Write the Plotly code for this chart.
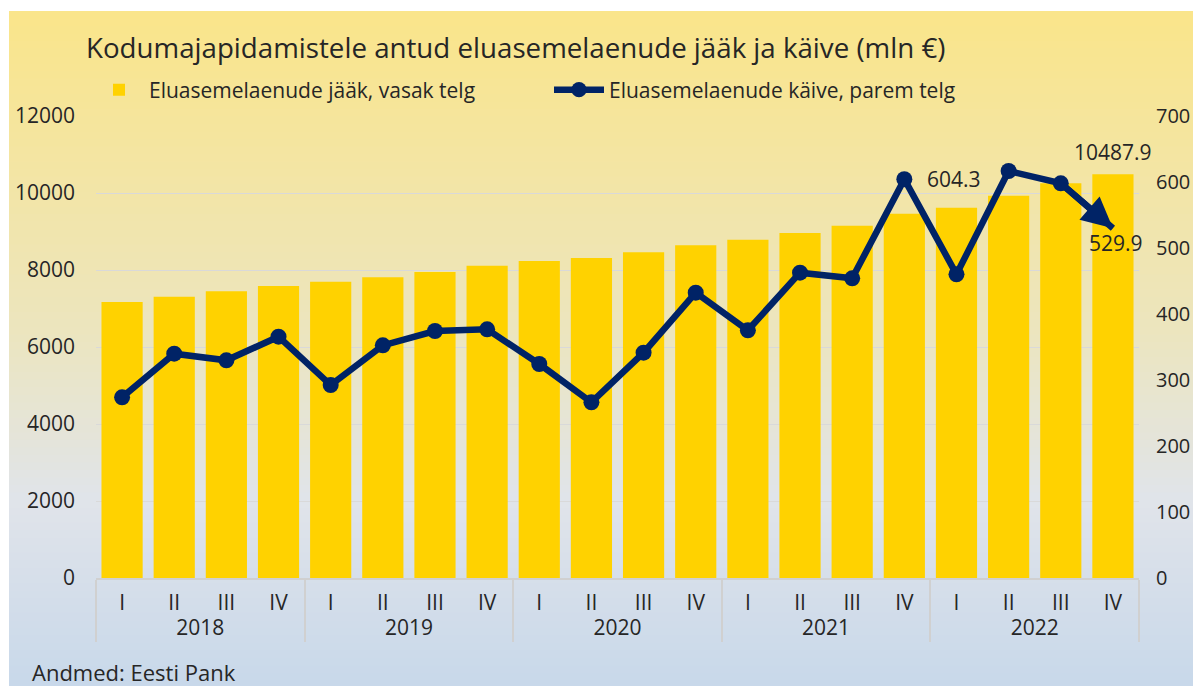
import plotly.graph_objects as go

# ---------------- data ----------------
years = ["2018", "2019", "2020", "2021", "2022"]
quarters = ["I", "II", "III", "IV"]
balance = [7169, 7307, 7446, 7584, 7697, 7810, 7948, 8113, 8234, 8312,
           8459, 8641, 8788, 8961, 9152, 9463, 9619, 9930, 10251, 10487.9]
turnover = [273.8, 339.9, 329.8, 365.6, 292.4, 352.5, 374.2, 376.8, 324.2, 266.2,
            341.4, 432.3, 375.3, 462.6, 454.1, 604.3, 460.1, 616.7, 598.0, 529.9]
left_ticks = [0, 2000, 4000, 6000, 8000, 10000, 12000]
right_ticks = [0, 100, 200, 300, 400, 500, 600, 700]

title_text = "Kodumajapidamistele antud eluasemelaenude jääk ja käive (mln €)"
bar_name = "Eluasemelaenude jääk, vasak telg"
line_name = "Eluasemelaenude käive, parem telg"
source_text = "Andmed: Eesti Pank"

x_years = [y for y in years for _ in quarters]
x_quarters = [q for _ in years for q in quarters]

# ---------------- layout geometry ----------------
# the page body adds an 8px offset, so the figure is drawn 8px smaller
OFF = 8
W, H = 1201 - OFF, 686 - OFF
L, R, T, B = 96 - OFF, 1139 - OFF, 116 - OFF, 578 - OFF
PW, PH = R - L, B - T
FONT = "Open Sans"
TXT = "#262626"
NAVY = "#002366"
GOLD = "#FFD200"


def px_x(ref_px):
    return (ref_px - OFF - L) / PW


def px_y(ref_py):
    return (B - (ref_py - OFF)) / PH


# background gradient (yellow -> light blue), in reference pixels
stops = [(11, (250, 229, 138)), (330, (236, 229, 190)), (500, (224, 228, 234)), (686, (200, 216, 234))]


def col_at(py):
    for (y0, c0), (y1, c1) in zip(stops[:-1], stops[1:]):
        if y0 <= py <= y1:
            t = (py - y0) / (y1 - y0)
            c = [round(a + (b - a) * t) for a, b in zip(c0, c1)]
            return "rgb(%d,%d,%d)" % tuple(c)
    return "rgb(%d,%d,%d)" % stops[-1][1]


shapes = []
n_strips = 90
y_top, y_bot = 11, 688
step = (y_bot - y_top) / n_strips
for i in range(n_strips):
    ya = y_top + i * step
    yb = ya + step + 0.8
    shapes.append(dict(type="rect", xref="paper", yref="paper",
                       x0=px_x(9), x1=px_x(1205), y0=px_y(min(yb, y_bot + 2)), y1=px_y(ya),
                       fillcolor=col_at(ya + step / 2), line=dict(width=0), layer="below"))

fig = go.Figure()
fig.add_trace(go.Bar(
    x=[x_years, x_quarters], y=balance, name=bar_name,
    marker=dict(color=GOLD, line=dict(width=0)), yaxis="y",
))
fig.add_trace(go.Scatter(
    x=[x_years, x_quarters], y=turnover, name=line_name, yaxis="y2",
    mode="lines+markers",
    line=dict(color=NAVY, width=6.5),
    marker=dict(color=NAVY, opacity=1, size=[16] * (len(turnover) - 1) + [0], line=dict(width=0)),
))

n = len(turnover)
annotations = [
    # arrow head on the last segment
    dict(x=n - 1, y=turnover[-1], xref="x", yref="y2",
         ax=n - 2, ay=turnover[-2], axref="x", ayref="y2",
         showarrow=True, arrowhead=2, arrowsize=0.95, arrowwidth=6.5, arrowcolor=NAVY,
         text=""),
    dict(x=n - 5, y=turnover[n - 5], xref="x", yref="y2", xshift=50,
         text=f"{turnover[n - 5]:.1f}", showarrow=False,
         font=dict(family=FONT, size=21, color=TXT)),
    dict(x=n - 1, y=balance[-1], xref="x", yref="y", yshift=22,
         text=f"{balance[-1]:.1f}", showarrow=False,
         font=dict(family=FONT, size=21, color=TXT)),
    dict(x=n - 1, y=turnover[-1], xref="x", yref="y2", xshift=3, yshift=-15,
         text=f"{turnover[-1]:.1f}", showarrow=False,
         font=dict(family=FONT, size=21, color=TXT)),
    dict(x=px_x(30), y=px_y(672), xref="paper", yref="paper", xanchor="left", yanchor="middle",
         text=source_text, showarrow=False, font=dict(family=FONT, size=22, color=TXT)),
]

fig.update_layout(
    width=W, height=H,
    margin=dict(l=L, r=W - R, t=T, b=H - B, pad=0, autoexpand=False),
    paper_bgcolor="white", plot_bgcolor="rgba(0,0,0,0)",
    font=dict(family=FONT, size=20, color=TXT),
    title=dict(text=title_text, xref="container", yref="container",
               x=(86 - OFF) / W, y=1 - (48 - OFF) / H, xanchor="left", yanchor="middle",
               font=dict(family=FONT, size=27.7, color=TXT), automargin=False),
    showlegend=True,
    legend=dict(orientation="h", x=px_x(89), y=px_y(90), xanchor="left", yanchor="middle",
                bgcolor="rgba(0,0,0,0)", font=dict(family=FONT, size=21, color=TXT),
                entrywidth=395, entrywidthmode="pixels", itemwidth=50,
                traceorder="normal"),
    bargap=0.21,
    xaxis=dict(type="multicategory", range=[-0.5, n - 0.5], autorange=False,
               showgrid=False, showline=True, linecolor="#D0D0D0", linewidth=2,
               ticks="", showdividers=True, dividercolor="#D0D0D0", dividerwidth=2, automargin=False,
               ticklabelstandoff=5,
               tickfont=dict(family=FONT, size=21, color=TXT)),
    yaxis=dict(range=[0, 12000], tickvals=left_ticks, tickformat="d", showgrid=True,
               gridcolor="#D9D9D9", gridwidth=1, automargin=False,
               zeroline=False, showline=False, ticks="", ticklabelstandoff=20,
               tickfont=dict(family=FONT, size=21, color=TXT)),
    yaxis2=dict(range=[0, 700], tickvals=right_ticks, tickformat="d", overlaying="y", side="right",
                showgrid=False, automargin=False,
                zeroline=False, showline=False, ticks="", ticklabelstandoff=16,
                tickfont=dict(family=FONT, size=20, color=TXT)),
    shapes=shapes,
    annotations=annotations,
)

fig.write_html("out.html")
